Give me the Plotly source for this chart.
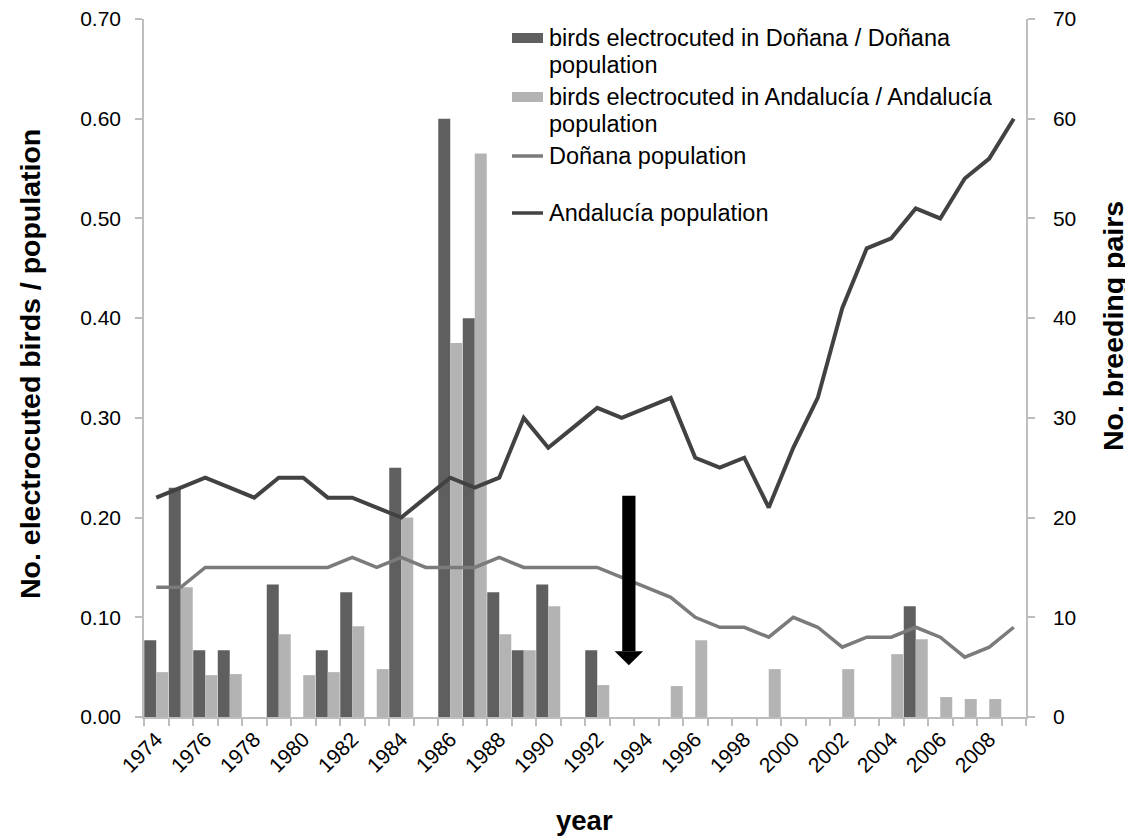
import plotly.graph_objects as go

years = list(range(1974, 2010))

# birds electrocuted / population (left axis)
donana_ratio = [0.077, 0.23, 0.067, 0.067, None, 0.133, None, 0.067, 0.125, None,
                0.25, None, 0.60, 0.40, 0.125, 0.067, 0.133, None, 0.067, None,
                None, None, None, None, None, None, None, None, None, None,
                None, 0.111, None, None, None, None]
andalucia_ratio = [0.045, 0.13, 0.042, 0.043, None, 0.083, 0.042, 0.045, 0.091, 0.048,
                   0.20, None, 0.375, 0.565, 0.083, 0.067, 0.111, None, 0.032, None,
                   None, 0.031, 0.077, None, None, 0.048, None, None, 0.048, None,
                   0.063, 0.078, 0.020, 0.018, 0.018, None]

# breeding pairs (right axis)
donana_pop = [13, 13, 15, 15, 15, 15, 15, 15, 16, 15,
              16, 15, 15, 15, 16, 15, 15, 15, 15, 14,
              13, 12, 10, 9, 9, 8, 10, 9, 7, 8,
              8, 9, 8, 6, 7, 9]
andalucia_pop = [22, 23, 24, 23, 22, 24, 24, 22, 22, 21,
                 20, 22, 24, 23, 24, 30, 27, 29, 31, 30,
                 31, 32, 26, 25, 26, 21, 27, 32, 41, 47,
                 48, 51, 50, 54, 56, 60]

tick_years = list(range(1974, 2009, 2))
tick_labels = [str(y) for y in tick_years]
left_ticks = [0.0, 0.1, 0.2, 0.3, 0.4, 0.5, 0.6, 0.7]
right_ticks = [0, 10, 20, 30, 40, 50, 60, 70]

series_names = ["birds electrocuted in Doñana / Doñana population",
                "birds electrocuted in Andalucía / Andalucía population",
                "Doñana population",
                "Andalucía population"]
legend_lines = [["birds electrocuted in Doñana / Doñana", "population"],
                ["birds electrocuted in Andalucía / Andalucía", "population"],
                ["Doñana population"],
                ["Andalucía population"]]

# marker arrow (year position, top and tip values on left axis)
arrow_year = 1993.29
arrow_top = 0.222
arrow_neck = 0.066
arrow_tip = 0.052
shaft_half = 0.27
head_half = 0.58

FONT = "Liberation Sans, Arial, sans-serif"
C_DARK_BAR = "#5f5f5f"
C_LIGHT_BAR = "#b3b3b3"
C_DON_LINE = "#7b7b7b"
C_AND_LINE = "#424242"

# page body margin offset (figure drawn at 8,8 in the window)
OFF = 8
FIG_W, FIG_H = 1133 - OFF, 837 - OFF
# plot area in window pixels
L, R, T, B = 144, 1026, 19, 717
W_PX, H_PX = R - L, B - T


def px_x(p):
    return (p - L) / W_PX


def px_y(p):
    return (B - p) / H_PX


fig = go.Figure()
fig.add_trace(go.Bar(x=years, y=donana_ratio, name=series_names[0],
                     marker=dict(color=C_DARK_BAR, line=dict(width=0))))
fig.add_trace(go.Bar(x=years, y=andalucia_ratio, name=series_names[1],
                     marker=dict(color=C_LIGHT_BAR, line=dict(width=0))))
fig.add_trace(go.Scatter(x=years, y=donana_pop, name=series_names[2], yaxis="y2",
                         mode="lines", line=dict(color=C_DON_LINE, width=3.5)))
fig.add_trace(go.Scatter(x=years, y=andalucia_pop, name=series_names[3], yaxis="y2",
                         mode="lines", line=dict(color=C_AND_LINE, width=4)))

# arrow
fig.add_shape(type="rect", xref="x", yref="y",
              x0=arrow_year - shaft_half, x1=arrow_year + shaft_half,
              y0=arrow_neck, y1=arrow_top, fillcolor="black", line=dict(width=0))
fig.add_shape(type="path", xref="x", yref="y",
              path=f"M {arrow_year - head_half},{arrow_neck} L {arrow_year + head_half},{arrow_neck} L {arrow_year},{arrow_tip} Z",
              fillcolor="black", line=dict(width=0))

# custom legend (symbols aligned with first text line)
legend_first_line_y = [38, 97, 156, 213]
line_step = 27
sym_x0, sym_x1, text_x = 512, 543, 547
legend_kinds = [("bar", C_DARK_BAR), ("bar", C_LIGHT_BAR), ("line", C_DON_LINE), ("line", C_AND_LINE)]
for (kind, col), y0, lines in zip(legend_kinds, legend_first_line_y, legend_lines):
    if kind == "bar":
        fig.add_shape(type="rect", xref="paper", yref="paper",
                      x0=px_x(sym_x0), x1=px_x(sym_x1), y0=px_y(y0 + 5), y1=px_y(y0 - 5),
                      fillcolor=col, line=dict(width=0))
    else:
        fig.add_shape(type="line", xref="paper", yref="paper",
                      x0=px_x(sym_x0), x1=px_x(sym_x1), y0=px_y(y0), y1=px_y(y0),
                      line=dict(color=col, width=3.5))
    for k, txt in enumerate(lines):
        fig.add_annotation(text=txt, xref="paper", yref="paper",
                           x=px_x(text_x), y=px_y(y0 + k * line_step),
                           xanchor="left", yanchor="middle", showarrow=False,
                           font=dict(size=23.5, family=FONT, color="black"))

# axis titles
fig.add_annotation(text="<b>No. electrocuted birds / population</b>", xref="paper", yref="paper",
                   x=px_x(30), y=px_y(364), textangle=-90, showarrow=False,
                   xanchor="center", yanchor="middle", font=dict(size=28.5, family=FONT, color="black"))
fig.add_annotation(text="<b>No. breeding pairs</b>", xref="paper", yref="paper",
                   x=px_x(1113), y=px_y(326), textangle=-90, showarrow=False,
                   xanchor="center", yanchor="middle", font=dict(size=28.5, family=FONT, color="black"))
fig.add_annotation(text="<b>year</b>", xref="paper", yref="paper",
                   x=px_x(584), y=px_y(820), showarrow=False,
                   xanchor="center", yanchor="middle", font=dict(size=27.5, family=FONT, color="black"))

axis_col = "#bdbdbd"
fig.update_layout(
    width=FIG_W, height=FIG_H,
    margin=dict(l=L - OFF, r=1133 - R, t=T - OFF, b=837 - B, autoexpand=False),
    paper_bgcolor="white", plot_bgcolor="white",
    font=dict(family=FONT, color="black", size=21),
    barmode="group", bargap=0.02, bargroupgap=0,
    showlegend=False,
    xaxis=dict(range=[1973.5, 2009.5], tickvals=tick_years, ticktext=tick_labels,
               tickangle=-45, ticks="outside", ticklen=0, showgrid=False,
               showline=True, linecolor=axis_col, linewidth=1.5,
               tickfont=dict(size=21), automargin=False, ticklabeloverflow="allow",
               minor=dict(tick0=1973.5, dtick=1, ticks="outside", ticklen=7,
                          tickcolor=axis_col, tickwidth=1.5, showgrid=False),
               zeroline=False),
    yaxis=dict(range=[0, 0.70], tickvals=left_ticks, tickformat=".2f",
               ticks="outside", ticklen=7, tickcolor=axis_col, tickwidth=1.5,
               showgrid=False, showline=True, linecolor=axis_col, linewidth=1.5,
               zeroline=False, tickfont=dict(size=21), automargin=False,
               ticklabelstandoff=10, ticklabeloverflow="allow"),
    yaxis2=dict(range=[0, 70], tickvals=right_ticks, overlaying="y", side="right",
                ticks="outside", ticklen=7, tickcolor=axis_col, tickwidth=1.5,
                showgrid=False, showline=True, linecolor=axis_col, linewidth=1.5,
                zeroline=False, tickfont=dict(size=21), automargin=False,
                ticklabelstandoff=14, ticklabeloverflow="allow"),
)

fig.write_html("out.html")
